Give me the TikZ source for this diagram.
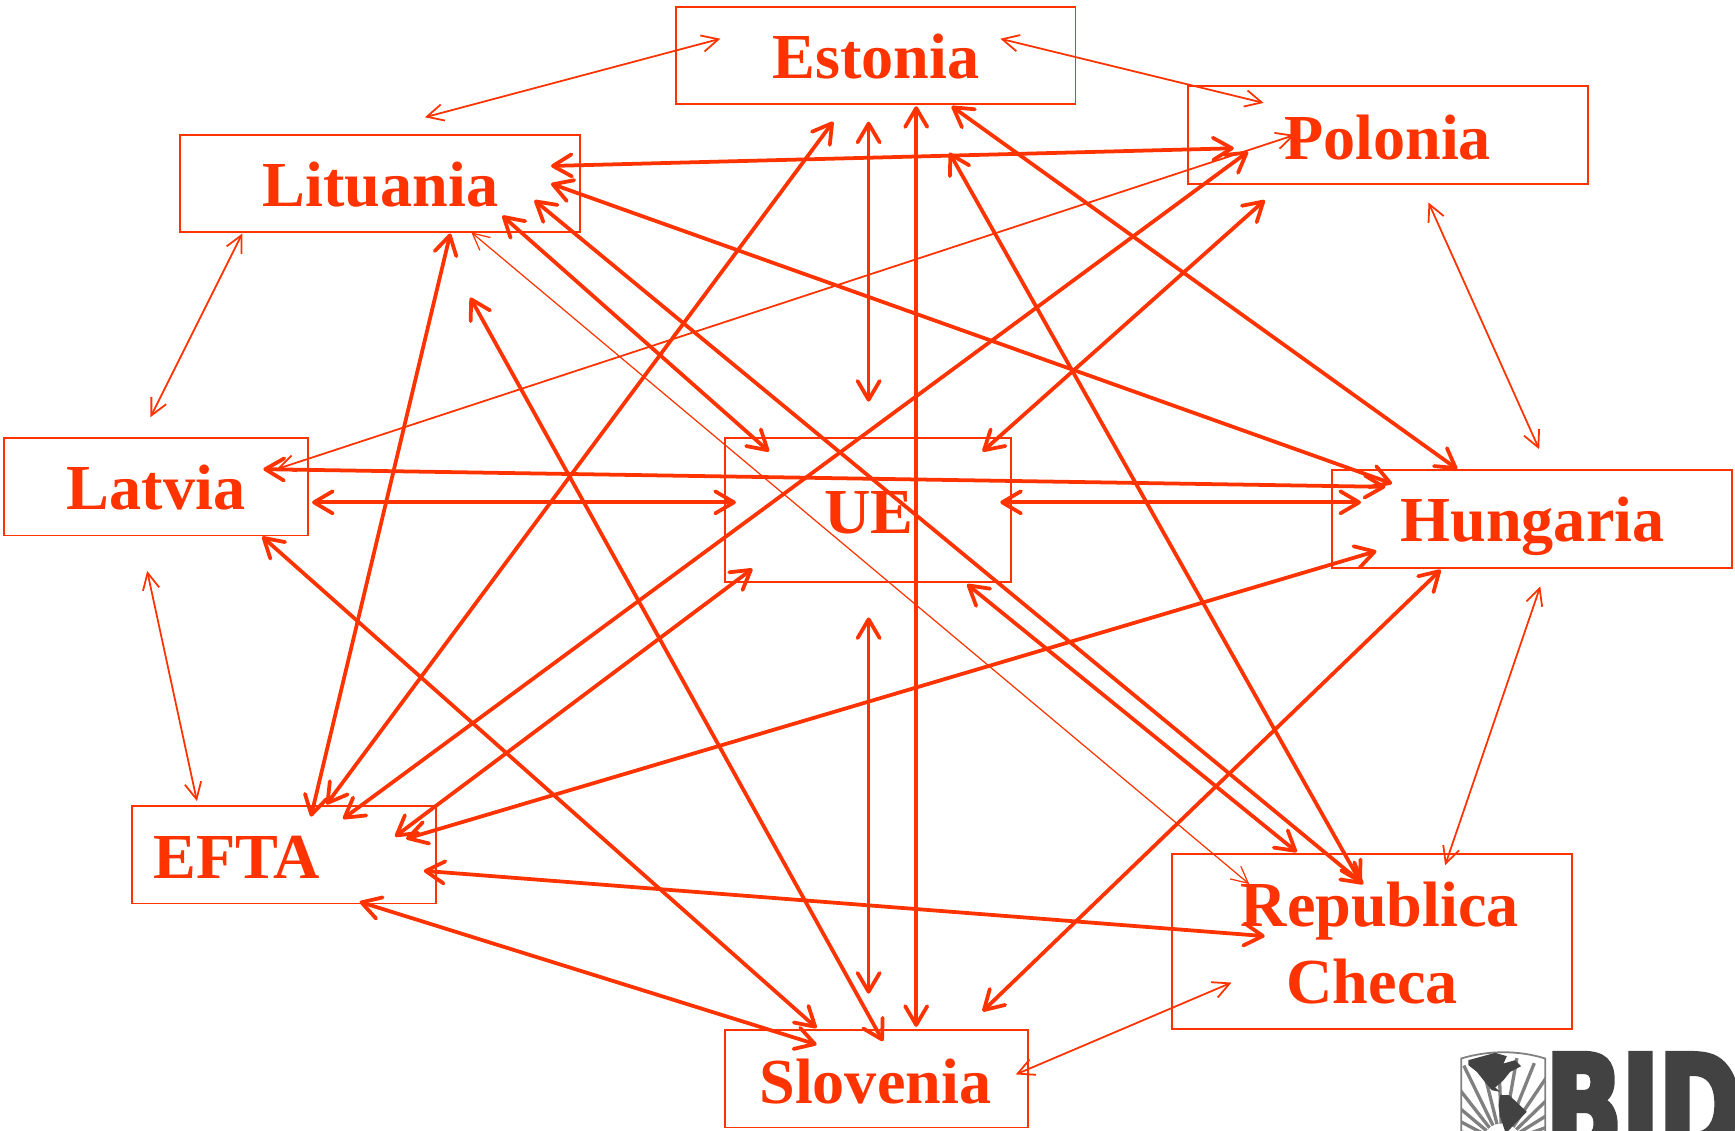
\documentclass[tikz,border=0pt]{standalone}
\usepackage{fontspec}
\setmainfont{Liberation Serif}
\newfontfamily\bidfont[FakeBold=4,FakeStretch=.72]{DejaVu Sans Bold}
\usetikzlibrary{arrows.meta}
\definecolor{bidred}{HTML}{FF3300}
\definecolor{bidgray}{HTML}{424242}

\tikzset{
  box/.style={draw=bidred, line width=1.7pt, inner sep=0pt},
  country/.style={text=bidred, inner sep=0pt, font=\fontsize{58}{60}\selectfont\bfseries},
  biglink/.style={draw=bidred, line width=3.4pt, line cap=round,
    {Straight Barb[length=17pt,width=20pt,round]}-{Straight Barb[length=17pt,width=20pt,round]}},
  smalllink/.style={draw=bidred, line width=1.6pt,
    {Straight Barb[length=15pt,width=15pt]}-{Straight Barb[length=15pt,width=15pt]}},
}

\begin{document}
\begin{tikzpicture}[x=1pt,y=-1pt]
\useasboundingbox (0,0) rectangle (1568,1022);

% the boxes
\node [box, minimum width=361pt, minimum height=88pt] (estonia) at (791.5,50) {};
\node [box, minimum width=361pt, minimum height=88pt] (polonia) at (1254.5,122) {};
\node [box, minimum width=361pt, minimum height=88pt] (lituania) at (343.5,166) {};
\node [box, minimum width=274pt, minimum height=88pt] (latvia) at (141,440) {};
\node [box, minimum width=259pt, minimum height=130pt] (ue) at (784.5,461) {};
\node [box, minimum width=361pt, minimum height=88pt] (hungaria) at (1384.5,469) {};
\node [box, minimum width=275pt, minimum height=88pt] (efta) at (256.5,772.5) {};
\node [box, minimum width=361pt, minimum height=158pt] (republica) at (1240,851) {};
\node [box, minimum width=274pt, minimum height=88pt] (slovenia) at (792,975) {};

% the names
\node [country] (estoniaName) at (791.5,51) {Estonia};
\node [country] (poloniaName) at (1254,124) {Polonia};
\node [country] (lituaniaName) at (344,167) {Lituania};
\node [country] (latviaName) at (141,441) {Latvia};
\node [country] (ueName) at (785,463) {UE};
\node [country] (hungariaName) at (1385,476) {Hungaria};
\node [country] (eftaName) at (214,775) {EFTA};
\node [country] (republicaName) at (1247,823) {Republica};
\node [country] (checaName) at (1240,887) {Checa};
\node [country] (sloveniaName) at (791,977) {Slovenia};

% thin links
\foreach \Name/\Ax/\Ay/\Bx/\By in {
    litest/384/106/651/35,
    estpol/904/35/1142/93,
    litlat/219/211/136/377,
    latpol/250/424/1170/122,
    polhun/1291/183/1391/406,
    latefta/133/516/178/724,
    hunrep/1392/530/1306/782,
    repslo/1113/888/918/971}{
  \coordinate (\Name a) at (\Ax,\Ay);
  \coordinate (\Name b) at (\Bx,\By);
  \draw [smalllink] (\Name a)--(\Name b);
}
\coordinate (litrepa) at (426,210);
\coordinate (litrepb) at (1129,799);
\draw [smalllink, line width=1.1pt] (litrepa)--(litrepb);

% thick links
\foreach \Name/\Ax/\Ay/\Bx/\By in {
    litpolb/498/150/1115/134,
    lithun/498/166/1258/437,
    litue/454/195/695/408,
    litrepc/483/181/1232/799,
    liteft/407/211/281/738,
    esteft/753/110/295/727,
    estue/785/110/785/363,
    estslo/828/96/828/928,
    esthun/860/96/1317/424,
    poleft/1128/137/310/740,
    polue/1143/181/888/408,
    lathun/238/424/1252/440,
    latue/282/454/665/454,
    uehun/904/454/1230/454,
    ueeft/680/514/357/756,
    ueslo/785/558/785/898,
    uerep/874/528/1172/770,
    huneft/1244/498/367/758,
    hunslo/1302/515/888/914,
    estrep/858/138/1230/798,
    latslo/237/485/738/929,
    litslo/425/269/798/941,
    eftrep/383/787/1143/846,
    eftslo/325/815/738/944}{
  \coordinate (\Name a) at (\Ax,\Ay);
  \coordinate (\Name b) at (\Bx,\By);
  \draw [biglink] (\Name a)--(\Name b);
}

% logo
\begin{scope}
\clip (1300,945) rectangle (1568,1022);
\node [anchor=north west, inner sep=0pt, text=bidgray, font=\bidfont\fontsize{125}{125}\selectfont] (bid) at (1397,952) {BID};
\begin{scope}[shift={(1297,931)},x=.3013pt,y=-.3013pt]
\draw [gray, line width=1.6pt] (78,310)--(78,85) .. controls (160,60) and (250,60) .. (330,85)--(330,310);
\begin{scope}
\clip (78,310)--(78,85) .. controls (160,60) and (250,60) .. (330,85)--(330,310)--cycle;
\foreach \Angle in {8,20,...,176}{
  \draw [gray, line width=3pt] (200,340)++(-\Angle:60)--++(-\Angle:200);
}
\fill [bidgray] (100,90)--(180,68)--(215,78)--(205,100)--(240,90)--(258,108)--(225,125)--(205,150)--(180,172)--(195,185)--(170,180)--(145,150)--(125,125)--(100,105)--cycle;
\fill [bidgray] (195,195)--(222,195)--(275,245)--(240,280)--(212,310)--(195,260)--(190,225)--cycle;
\end{scope}
\end{scope}
\end{scope}

\end{tikzpicture}
\end{document}
